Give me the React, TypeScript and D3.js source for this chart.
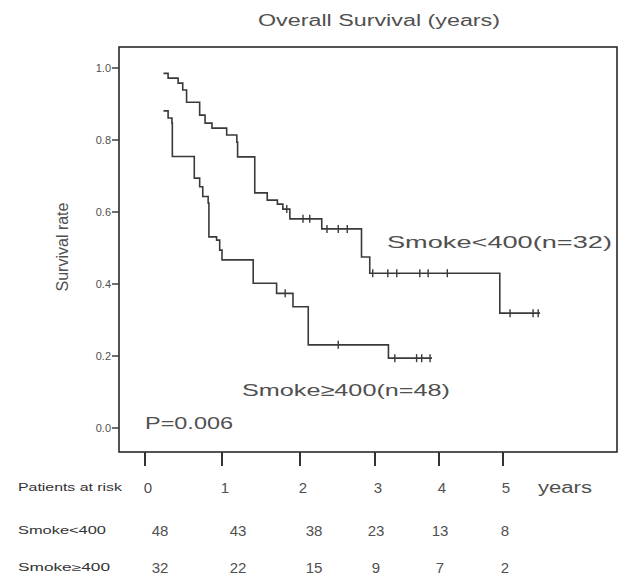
import React from 'react';
import * as d3 from 'd3';

// ---- data ----
const years = [0, 1, 2, 3, 4, 5];
const riskLow = [48, 43, 38, 23, 13, 8]; // Smoke<400
const riskHigh = [32, 22, 15, 9, 7, 2]; // Smoke>=400

// Smoke<400 KM curve: event times (years) and survival after each
const lowTimes = [0.24, 0.30, 0.43, 0.49, 0.54, 0.71, 0.78, 0.87, 1.06, 1.19, 1.20, 1.42, 1.58, 1.71, 1.78, 1.87, 2.29, 2.82, 2.93, 4.95];
const lowSurv = [0.985, 0.972, 0.958, 0.939, 0.905, 0.869, 0.847, 0.833, 0.814, 0.794, 0.753, 0.653, 0.633, 0.622, 0.608, 0.581, 0.553, 0.475, 0.430, 0.319];
const lowEnd = 5.58;
const lowCensor = [1.83, 2.04, 2.13, 2.36, 2.51, 2.63, 2.97, 3.20, 3.34, 3.70, 3.83, 4.13, 5.11, 5.47, 5.55];

// Smoke>=400 KM curve
const highTimes = [0.24, 0.30, 0.35, 0.355, 0.64, 0.71, 0.75, 0.82, 0.83, 0.93, 0.97, 1.00, 1.40, 1.70, 1.91, 2.11, 3.21];
const highSurv = [0.881, 0.861, 0.847, 0.754, 0.694, 0.670, 0.643, 0.625, 0.531, 0.522, 0.494, 0.467, 0.402, 0.374, 0.337, 0.231, 0.194];
const highEnd = 3.89;
const highCensor = [1.81, 2.51, 3.31, 3.65, 3.73, 3.86];

const yTicks = [0, 0.2, 0.4, 0.6, 0.8, 1.0];

// ---- layout ----
const W = 626, H = 584;
const box = { left: 119, top: 47, right: 617, bottom: 452 };
const xDomain = [0, 1, 2, 3, 4, 5, 6];
const xRange = [145, 222, 300, 375, 439, 503, 567];
const tableRange = [160, 238, 314, 376, 440, 505];
const FONT = "'Liberation Sans', Arial, Helvetica, sans-serif";
const TEXT = '#505050';
const LINE = '#3a3a3a';

function survAt(times: number[], surv: number[], t: number) {
  let s = surv[0];
  for (let i = 0; i < times.length; i++) if (times[i] <= t) s = surv[i];
  return s;
}

export default function App() {
  const x = d3.scaleLinear().domain(xDomain).range(xRange);
  const y = d3.scaleLinear().domain([0, 1]).range([428, 68]);
  const tx = d3.scaleLinear().domain(years).range(tableRange);
  const line = d3.line<[number, number]>().x(d => x(d[0])).y(d => y(d[1])).curve(d3.curveStepAfter);

  const mk = (times: number[], surv: number[], end: number): [number, number][] => {
    const pts: [number, number][] = times.map((t, i) => [t, surv[i]]);
    pts.push([end, surv[surv.length - 1]]);
    return pts;
  };

  const curves = [
    { times: lowTimes, surv: lowSurv, end: lowEnd, cens: lowCensor },
    { times: highTimes, surv: highSurv, end: highEnd, cens: highCensor },
  ];

  return (
    <svg width={W} height={H} style={{ position: 'absolute', left: 0, top: 0, background: '#fff' }} fontFamily={FONT}>
      <rect x={0} y={0} width={W} height={H} fill="#fff" />
      <text x={379} y={26} textAnchor="middle" fontSize={16} fill={TEXT} textLength={242} lengthAdjust="spacingAndGlyphs">Overall Survival (years)</text>
      <rect x={box.left} y={box.top} width={box.right - box.left} height={box.bottom - box.top} fill="none" stroke="#2a2a2a" strokeWidth={1.6} />

      {yTicks.map(v => (
        <g key={v}>
          <line x1={box.left - 7} x2={box.left} y1={y(v)} y2={y(v)} stroke="#333" strokeWidth={1.4} />
          <text x={box.left - 8} y={y(v) + 4} textAnchor="end" fontSize={11} fill={TEXT}>{d3.format('.1f')(v)}</text>
        </g>
      ))}
      <text transform={`translate(68,247) rotate(-90)`} textAnchor="middle" fontSize={16} fill={TEXT}>Survival rate</text>

      {years.map(v => (
        <line key={v} x1={x(v)} x2={x(v)} y1={box.bottom} y2={box.bottom + 14} stroke="#333" strokeWidth={2} />
      ))}

      {curves.map((c, i) => (
        <g key={i}>
          <path d={line(mk(c.times, c.surv, c.end)) || ''} fill="none" stroke={LINE} strokeWidth={1.6} />
          {c.cens.map((t, j) => {
            const s = survAt(c.times, c.surv, t);
            return <line key={j} x1={x(t)} x2={x(t)} y1={y(s) - 4} y2={y(s) + 4} stroke={LINE} strokeWidth={1.4} />;
          })}
        </g>
      ))}

      <text x={387} y={248} fontSize={17} fill={TEXT} textLength={225} lengthAdjust="spacingAndGlyphs">Smoke&lt;400(n=32)</text>
      <text x={242} y={396} fontSize={17} fill={TEXT} textLength={208} lengthAdjust="spacingAndGlyphs">Smoke≥400(n=48)</text>
      <text x={145} y={429} fontSize={17} fill={TEXT} textLength={88} lengthAdjust="spacingAndGlyphs">P=0.006</text>

      <text x={18} y={491} fontSize={10} fill="#333" textLength={104} lengthAdjust="spacingAndGlyphs">Patients at risk</text>
      {years.map(v => (
        <text key={v} x={x(v) + 3} y={493} textAnchor="middle" fontSize={15} fill={TEXT}>{v}</text>
      ))}
      <text x={565} y={493} textAnchor="middle" fontSize={16} fill={TEXT} textLength={54} lengthAdjust="spacingAndGlyphs">years</text>

      <text x={18} y={534} fontSize={10} fill="#333" textLength={88} lengthAdjust="spacingAndGlyphs">Smoke&lt;400</text>
      {riskLow.map((v, i) => (
        <text key={i} x={tx(years[i])} y={536} textAnchor="middle" fontSize={15} fill={TEXT}>{v}</text>
      ))}
      <text x={18} y={571} fontSize={10} fill="#333" textLength={92} lengthAdjust="spacingAndGlyphs">Smoke≥400</text>
      {riskHigh.map((v, i) => (
        <text key={i} x={tx(years[i])} y={573} textAnchor="middle" fontSize={15} fill={TEXT}>{v}</text>
      ))}
    </svg>
  );
}
